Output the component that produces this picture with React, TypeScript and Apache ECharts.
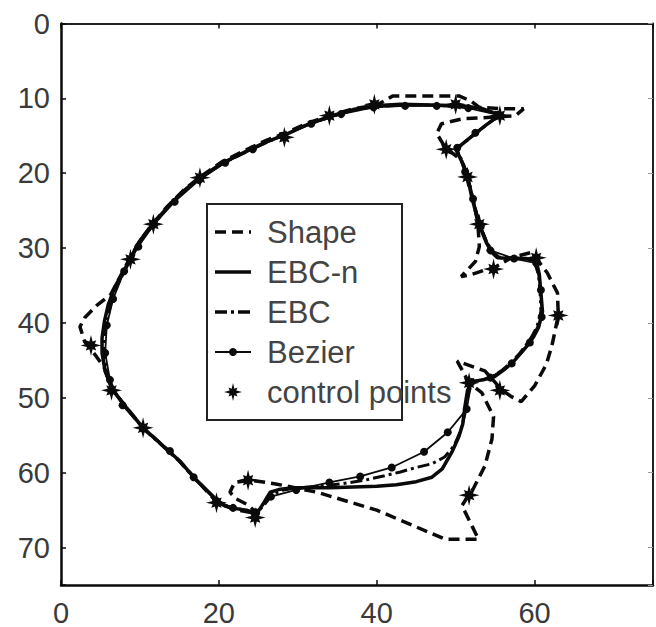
import React, { useEffect, useRef } from "react";
import * as echarts from "echarts";

const xTickValues = [0, 20, 40, 60];
const yTickValues = [0, 10, 20, 30, 40, 50, 60, 70];
const seriesNames = ["Shape", "EBC-n", "EBC", "Bezier", "control points"];

const shapePts: number[][] = [
  [20, 64.2], [17, 60.8], [15, 58.4], [12.5, 56], [10.4, 54], [8.3, 51.3], [6.5, 48.9],
  [5.5, 46], [4.5, 44.5], [3, 42.5], [2.4, 40.5], [3, 39.3], [4.5, 37.7], [6.3, 36.2],
  [7, 34.8], [8.6, 31.6], [10, 29], [11.5, 26.9], [13.5, 24.4], [15.5, 22.3], [17.6, 20.5],
  [20.5, 18.4], [23.6, 16.8], [26, 15.6], [28.3, 14.7], [31, 13.4], [34, 12.3], [37, 11.4],
  [40, 10.9], [42, 9.7], [50.5, 9.7], [52, 10.4], [53, 11.2], [56, 11.4], [58.6, 11.4],
  [57.6, 12.3], [55, 12.5], [51, 12.7], [48.2, 13.4], [47.6, 14.7], [48.7, 16.6],
  [50.7, 18.2], [51.5, 20.5], [52.2, 23.5], [52.8, 26.5], [53, 29.8], [52.5, 31.8],
  [50.7, 33.8], [51.8, 33.6], [53.5, 33], [54.8, 32.7], [57, 31.3], [59.5, 30.6],
  [60.3, 31.5], [61.6, 33.3], [62.9, 36], [63, 39], [62.2, 43], [61.5, 45.5], [60, 48.4],
  [58.3, 50.5], [57, 49.8], [55.8, 48.9], [53.7, 46.4], [50.2, 45.1], [51.7, 48],
  [53.3, 49.3], [54.8, 52.5], [54.6, 55.5], [53.7, 59.1], [52.2, 62.2], [51.7, 62.9],
  [50.8, 64.4], [52.9, 68.9], [48.7, 68.9], [40, 65], [32.4, 62.6], [27.2, 61.5],
  [24, 61], [22, 61.3], [21.4, 62.6], [22.2, 63.5], [23.5, 64.2], [25, 65.5],
  [22.5, 65], [20, 64.2],
];

const ebcNPts: number[][] = [
  [19.7, 63.6], [17, 60.8], [15, 58.4], [12.5, 56], [10.4, 54], [8.3, 51.3], [6.5, 48.9],
  [5.6, 46.5], [5.2, 44], [5.2, 42], [5.5, 39.8], [6, 37.5], [6.9, 35], [8, 33], [8.7, 31.5],
  [10, 29], [11.5, 27], [13.5, 24.5], [15.5, 22.4], [17.6, 20.6], [20.5, 18.6], [23.6, 17],
  [26, 15.8], [28.3, 14.9], [31, 13.6], [34, 12.4], [37, 11.5], [39.7, 11], [43, 10.8],
  [47, 10.9], [50.5, 11], [53.2, 11.3], [55.6, 12.2], [53.8, 13.6], [52, 15.1], [50, 16.8],
  [50.8, 18.5], [51.5, 20.5], [52, 23], [52.6, 25.5], [53.2, 27.5], [53.9, 29.3],
  [54.6, 30.6], [55.3, 31.3], [57, 31.4], [59, 31.4], [60.2, 31.7], [60.6, 33.5], [60.8, 36],
  [61, 38.5], [60.5, 40.6], [59.9, 41.8], [59.1, 43], [58.3, 44], [57.3, 45.2], [56.2, 46.2],
  [54.9, 47.2], [53.5, 47.6], [52, 47.8], [51.5, 49], [51.2, 51], [50.9, 53.5], [50.4, 55.2],
  [49.5, 57.3], [48.3, 59.5], [47, 60.6], [45, 61.2], [42.5, 61.6], [40, 61.8], [37, 61.9],
  [34, 62], [31, 62], [29.5, 62], [27.8, 62.2], [26.5, 62.6], [25.7, 64], [24.8, 65.5],
  [23.5, 65], [21.5, 64.7], [20.5, 64.3], [19.7, 63.6],
];

const ebcPts: number[][] = [
  [19.7, 63.7], [17, 60.9], [15, 58.5], [12.5, 56.1], [10.4, 54.1], [8.3, 51.4], [6.6, 49],
  [5.8, 46.5], [5.5, 44], [5.5, 42], [5.8, 39.8], [6.3, 37.5], [7.1, 35], [8.1, 33], [8.8, 31.5],
  [10.1, 29.1], [11.6, 27], [13.6, 24.5], [15.6, 22.4], [17.7, 20.6], [20.6, 18.6], [23.6, 17.1],
  [26, 15.9], [28.3, 14.9], [31, 13.6], [34, 12.5], [37, 11.6], [39.7, 11.1], [43, 10.9],
  [47, 10.9], [50.5, 11.1], [53.2, 11.4], [55.5, 12.3], [53.7, 13.7], [51.9, 15.2], [50.1, 16.8],
  [50.9, 18.5], [51.6, 20.6], [52.1, 23.1], [52.7, 25.6], [53.3, 27.6], [54, 29.3], [54.7, 30.5],
  [55.5, 31.2], [57, 31.3], [59, 31.4], [60, 31.9], [60.5, 33.6], [60.7, 36], [60.8, 38.5],
  [60.3, 40.5], [59.6, 41.9], [58.8, 43.1], [58, 44.2], [57, 45.3], [55.9, 46.3], [54.6, 47.2],
  [53.3, 47.6], [52.1, 47.9], [51.6, 49.5], [51.2, 52], [50.6, 54.5], [49.8, 56.4], [48.6, 57.9],
  [47, 58.8], [45, 59.3], [43, 59.9], [41, 60.4], [38.5, 61], [35.5, 61.5], [32.5, 61.8],
  [30, 62], [28.2, 62.3], [26.8, 62.9], [25.9, 64.1], [24.8, 65.4], [23.3, 65], [21.4, 64.6],
  [20.4, 64.2], [19.7, 63.7],
];

const bezierPts: number[][] = [
  [19.7, 63.8], [16.8, 60.6], [13.8, 57.1], [10.4, 54.1], [7.8, 51], [6.2, 47.6], [5.6, 44],
  [5.8, 40.3], [6.6, 36.8], [8, 33.1], [9.8, 29.8], [11.8, 26.8], [14.4, 23.8], [17.5, 20.9],
  [20.8, 18.6], [24.3, 16.8], [28, 15], [31.7, 13.4], [35.5, 12.1], [39.6, 11.2], [43.6, 11],
  [47.6, 11], [51.6, 11.3], [55.4, 12.2], [52.5, 14.6], [50.2, 16.6], [51.2, 19.8],
  [52.2, 23.4], [53.2, 27], [54.4, 30.3], [57.4, 31.4], [60.2, 32], [60.8, 35.6], [60.9, 39.2],
  [59.4, 42.6], [57.1, 45.4], [54.4, 47.3], [52, 47.9], [51.4, 51.5], [49, 54.6], [46, 57.2],
  [41.9, 59.3], [37.9, 60.5], [34, 61.3], [29.8, 62.3], [26.6, 63.2], [24.7, 65.3],
  [21.8, 64.7], [19.7, 63.8],
];

const controlPts: number[][] = [
  [39.7, 10.8], [50, 10.8], [55.6, 12.3], [48.8, 16.8], [51.5, 20.5], [53, 26.8],
  [54.8, 32.8], [60.2, 31.3], [63, 39], [55.6, 49], [51.7, 48], [51.7, 63], [24.6, 66],
  [23.7, 61], [19.7, 64], [10.4, 54], [6.4, 49], [3.8, 43], [8.8, 31.5], [11.7, 26.8],
  [17.6, 20.6], [28.3, 15.2], [34, 12.3],
];

const starPath =
  "M0,-10L1.53,-3.7L4.95,-4.95L3.7,-1.53L10,0L3.7,1.53L4.95,4.95L1.53,3.7L0,10L-1.53,3.7L-4.95,4.95L-3.7,1.53L-10,0L-3.7,-1.53L-4.95,-4.95L-1.53,-3.7Z";
const starVerts: number[][] = [
  [0, -10], [1.53, -3.7], [4.95, -4.95], [3.7, -1.53], [10, 0], [3.7, 1.53], [4.95, 4.95],
  [1.53, 3.7], [0, 10], [-1.53, 3.7], [-4.95, 4.95], [-3.7, 1.53], [-10, 0], [-3.7, -1.53],
  [-4.95, -4.95], [-1.53, -3.7],
];

const INK = "#0a0a0a";
const FONT = "'Liberation Sans', Arial, sans-serif";

export default function App() {
  const ref = useRef<HTMLDivElement>(null);
  useEffect(() => {
    document.body.style.margin = "0";
    if (!ref.current) return;
    const chart = echarts.init(ref.current, null, { renderer: "svg" });

    const legX = 207, legY = 204, legW = 195, legH = 216;
    const rowY = [232, 272, 312, 352, 392];
    const sx1 = 215, sx2 = 251, tx = 267;

    const legendEls: any[] = [
      {
        type: "rect",
        shape: { x: legX, y: legY, width: legW, height: legH },
        style: { fill: "#fff", stroke: "#222", lineWidth: 2 },
        z: 100,
      },
      {
        type: "line",
        shape: { x1: sx1, y1: rowY[0], x2: sx2, y2: rowY[0] },
        style: { stroke: INK, lineWidth: 3.5, lineDash: [11, 6] },
        z: 101,
      },
      {
        type: "line",
        shape: { x1: sx1, y1: rowY[1], x2: sx2, y2: rowY[1] },
        style: { stroke: INK, lineWidth: 3.5 },
        z: 101,
      },
      {
        type: "line",
        shape: { x1: sx1, y1: rowY[2], x2: sx2, y2: rowY[2] },
        style: { stroke: INK, lineWidth: 3.5, lineDash: [12, 4, 3, 4] },
        z: 101,
      },
      {
        type: "line",
        shape: { x1: sx1, y1: rowY[3], x2: sx2, y2: rowY[3] },
        style: { stroke: INK, lineWidth: 1.8 },
        z: 101,
      },
      {
        type: "circle",
        shape: { cx: (sx1 + sx2) / 2, cy: rowY[3], r: 4 },
        style: { fill: INK },
        z: 102,
      },
      {
        type: "polygon",
        shape: {
          points: starVerts.map((p) => [(sx1 + sx2) / 2 + p[0] * 0.9, rowY[4] + p[1] * 0.9]),
        },
        style: { fill: INK },
        z: 102,
      },
    ];
    seriesNames.forEach((n, i) => {
      legendEls.push({
        type: "text",
        x: tx,
        y: rowY[i],
        style: {
          text: n,
          fill: "#444",
          font: `31px ${FONT}`,
          verticalAlign: "middle",
        },
        z: 103,
      });
    });

    const axisLineStyle = { color: INK, width: 2.5 };
    const fmtX = (v: number) => (xTickValues.includes(v) ? String(v) : "");
    const fmtY = (v: number) => (yTickValues.includes(v) ? String(v) : "");

    chart.setOption({
      animation: false,
      backgroundColor: "#fff",
      grid: { left: 61, top: 23.5, width: 604, height: 561.5 },
      xAxis: [
        {
          type: "value",
          min: 0,
          max: 75,
          interval: 20,
          position: "bottom",
          axisLine: { show: true, onZero: false, lineStyle: axisLineStyle },
          axisTick: { show: true, inside: true, length: 5, lineStyle: { color: INK, width: 1.5 } },
          axisLabel: {
            formatter: fmtX,
            color: "#3a3a3a",
            fontSize: 29,
            fontFamily: FONT,
            margin: 13,
          },
          splitLine: { show: false },
        },
        {
          type: "value",
          min: 0,
          max: 75,
          interval: 20,
          position: "top",
          axisLine: { show: true, onZero: false, lineStyle: { color: "#222", width: 2 } },
          axisTick: { show: true, inside: true, length: 5, lineStyle: { color: INK, width: 1.5 } },
          axisLabel: { show: false },
          splitLine: { show: false },
        },
      ],
      yAxis: [
        {
          type: "value",
          min: 0,
          max: 75,
          interval: 10,
          inverse: true,
          position: "left",
          axisLine: { show: true, onZero: false, lineStyle: axisLineStyle },
          axisTick: { show: true, inside: true, length: 5, lineStyle: { color: INK, width: 1.5 } },
          axisLabel: {
            formatter: fmtY,
            color: "#3a3a3a",
            fontSize: 29,
            fontFamily: FONT,
            margin: 11,
          },
          splitLine: { show: false },
        },
        {
          type: "value",
          min: 0,
          max: 75,
          interval: 10,
          inverse: true,
          position: "right",
          axisLine: { show: true, onZero: false, lineStyle: { color: "#222", width: 2 } },
          axisTick: { show: true, inside: true, length: 5, lineStyle: { color: "#999", width: 1 } },
          axisLabel: { show: false },
          splitLine: { show: false },
        },
      ],
      series: [
        {
          name: seriesNames[0],
          type: "line",
          data: shapePts,
          symbol: "none",
          lineStyle: { color: INK, width: 3.5, type: [11, 6] },
          z: 2,
        },
        {
          name: seriesNames[1],
          type: "line",
          data: ebcNPts,
          symbol: "none",
          lineStyle: { color: INK, width: 3.5 },
          z: 3,
        },
        {
          name: seriesNames[2],
          type: "line",
          data: ebcPts,
          symbol: "none",
          lineStyle: { color: INK, width: 3, type: [12, 4, 3, 4] },
          z: 4,
        },
        {
          name: seriesNames[3],
          type: "line",
          data: bezierPts,
          symbol: "circle",
          symbolSize: 8,
          showSymbol: true,
          itemStyle: { color: INK, opacity: 1 },
          lineStyle: { color: INK, width: 1.8 },
          z: 5,
        },
        {
          name: seriesNames[4],
          type: "scatter",
          data: controlPts,
          symbol: "path://" + starPath,
          symbolSize: 21,
          itemStyle: { color: INK, opacity: 1 },
          z: 6,
        },
      ],
      graphic: { elements: legendEls },
    });
    return () => chart.dispose();
  }, []);
  return <div ref={ref} style={{ width: 656, height: 627 }} />;
}
